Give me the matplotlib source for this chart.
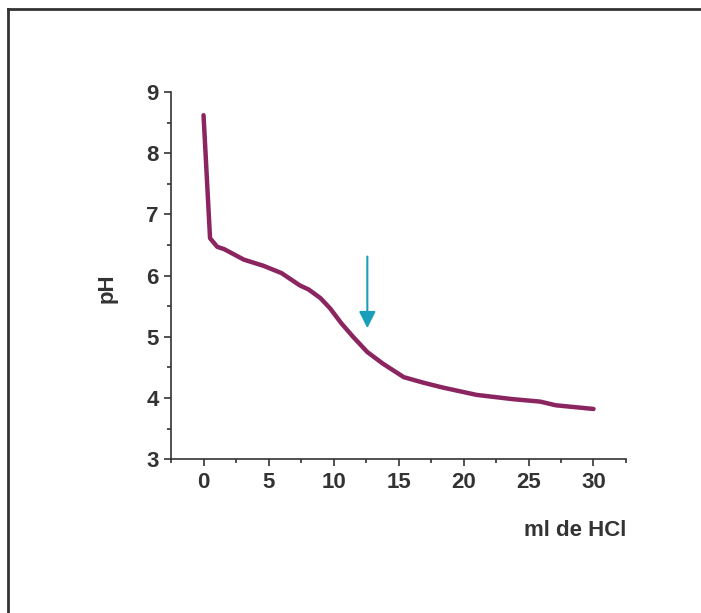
import matplotlib
matplotlib.use("Agg")
import matplotlib.pyplot as plt
from matplotlib.lines import Line2D
from matplotlib.ticker import MultipleLocator

# titration curve
ml_hcl = [0, 0.5, 1.05, 1.6, 3.1, 4.6, 6.0, 7.4, 8.1, 9.0, 9.75,
          10.6, 11.5, 12.6, 13.8, 15.4, 16.9, 18.4, 21.0, 23.8, 25.9, 27.1, 30.0]
ph = [8.62, 6.61, 6.47, 6.43, 6.26, 6.16, 6.04, 5.84, 5.77, 5.63, 5.46,
      5.22, 5.00, 4.75, 4.56, 4.34, 4.25, 4.17, 4.05, 3.98, 3.94, 3.88, 3.82]

# arrow marking the equivalence region
arrow_x = 12.6
arrow_top = 6.31
arrow_tip = 5.14

plt.rcParams['font.family'] = ['Liberation Sans', 'DejaVu Sans']
dark = '#333333'

fig = plt.figure(figsize=(7.01, 6.13), dpi=100)
ax = fig.add_axes([0.244, 0.251, 0.649, 0.599])

ax.plot(ml_hcl, ph, color='#8b2560', lw=3.2, solid_capstyle='round', solid_joinstyle='round')

ax.annotate('', xy=(arrow_x, arrow_tip), xytext=(arrow_x, arrow_top),
            arrowprops=dict(arrowstyle='-|>,head_length=1.0,head_width=0.5',
                            color='#1a9fba', lw=1.5, shrinkA=0, shrinkB=0))

ax.set_xlim(-2.5, 32.5)
ax.set_ylim(3, 9)
ax.xaxis.set_major_locator(MultipleLocator(5))
ax.xaxis.set_minor_locator(MultipleLocator(2.5))
ax.yaxis.set_major_locator(MultipleLocator(1))
ax.yaxis.set_minor_locator(MultipleLocator(0.5))

for side in ['top', 'right']:
    ax.spines[side].set_visible(False)
for side in ['left', 'bottom']:
    ax.spines[side].set_color(dark)
    ax.spines[side].set_linewidth(1.2)

ax.tick_params(which='major', length=5, width=1.2, color=dark, labelcolor=dark,
               labelsize=16, pad=4)
ax.tick_params(which='minor', length=3, width=1.2, color=dark)
for lab in ax.get_xticklabels() + ax.get_yticklabels():
    lab.set_fontweight('bold')

fig.text(0.893, 0.135, 'ml de HCl', ha='right', va='center',
         fontsize=16, fontweight='bold', color=dark)
fig.text(0.153, 0.53, 'pH', ha='center', va='center', rotation=90,
         fontsize=16, fontweight='bold', color=dark)

# frame around the panel (top and left edges only)
fig.add_artist(Line2D([0.011, 1.0], [0.985, 0.985], color=dark, lw=2,
                      transform=fig.transFigure))
fig.add_artist(Line2D([0.011, 0.011], [0.0, 0.985], color=dark, lw=2,
                      transform=fig.transFigure))

fig.savefig('out.png', dpi=100)
